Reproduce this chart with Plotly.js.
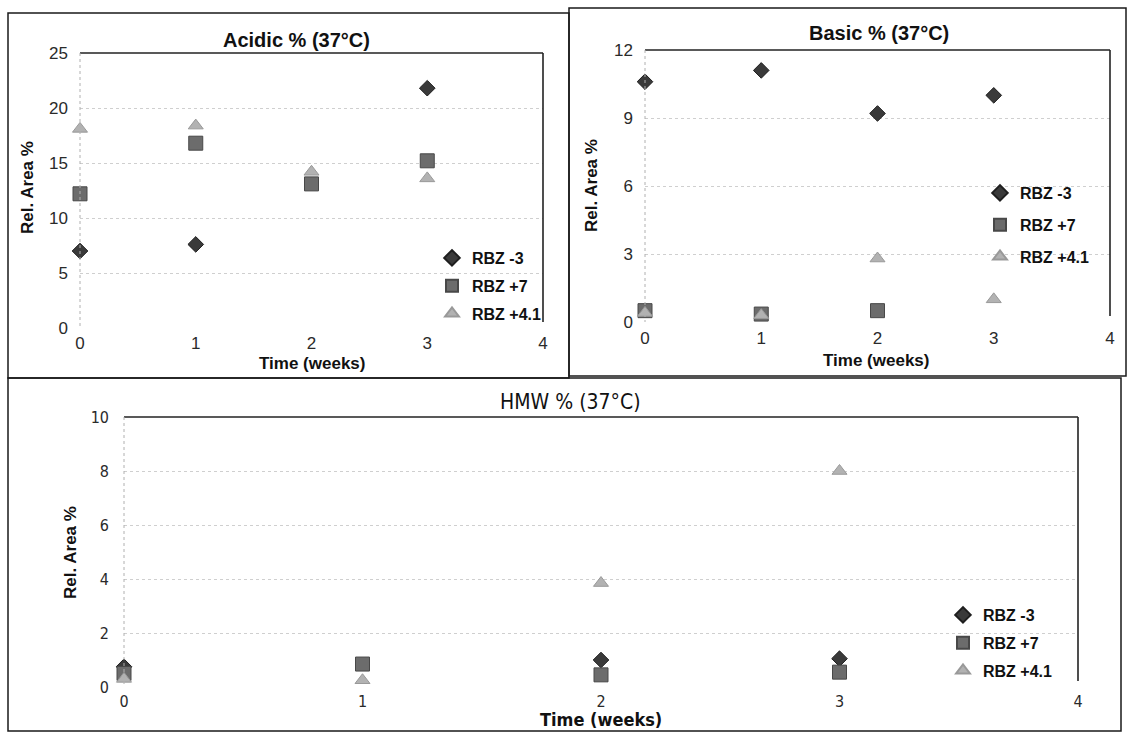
<!DOCTYPE html>
<html>
<head>
<meta charset="utf-8">
<script src="https://cdn.plot.ly/plotly-3.0.1.min.js"></script>
<style>html,body{margin:0;padding:0;background:#fff;}#chart{width:1127px;height:733px;}</style>
</head>
<body>
<div id="chart"></div>
<script>
// ---- data ----
const seriesNames = ["RBZ -3", "RBZ +7", "RBZ +4.1"];
const timeTicks = [0, 1, 2, 3, 4];

const acidicM3x = [0, 1, 3];
const acidicM3 = [7.0, 7.6, 21.8];
const acidicP7x = [0, 1, 2, 3];
const acidicP7 = [12.2, 16.8, 13.1, 15.2];
const acidicP41x = [0, 1, 2, 3];
const acidicP41 = [18.1, 18.4, 14.2, 13.6];

const basicM3x = [0, 1, 2, 3];
const basicM3 = [10.6, 11.1, 9.2, 10.0];
const basicP7x = [0, 1, 2];
const basicP7 = [0.5, 0.35, 0.5];
const basicP41x = [0, 1, 2, 3];
const basicP41 = [0.4, 0.3, 2.8, 1.0];

const hmwM3x = [0, 2, 3];
const hmwM3 = [0.75, 1.0, 1.05];
const hmwP7x = [0, 1, 2, 3];
const hmwP7 = [0.5, 0.85, 0.45, 0.55];
const hmwP41x = [0, 1, 2, 3];
const hmwP41 = [0.3, 0.25, 3.85, 8.0];

// ---- geometry helpers ----
const W = 1127, H = 733;
const px = v => v / W;
const py = v => 1 - v / H;

const ARIAL = "Liberation Sans, Arial, sans-serif";
const COND = "DejaVu Sans Condensed, Liberation Sans, sans-serif";

const styles = [
  {symbol: "diamond", size: 12, color: "#3a3a3a", line: {color: "#1e1e1e", width: 1}},
  {symbol: "square", size: 14, color: "#6c6c6c", line: {color: "#484848", width: 1}},
  {symbol: "triangle-up", size: 13, color: "#b2b2b2", line: {color: "#999", width: 1}}
];

function mk(x, y, i, ax, leg) {
  return {
    type: "scatter", mode: "markers", x: x, y: y, name: seriesNames[i],
    xaxis: "x" + ax, yaxis: "y" + ax, legend: leg, legendgroup: leg + i,
    marker: styles[i], cliponaxis: false, hoverinfo: "x+y+name"
  };
}

const traces = [
  mk(acidicM3x, acidicM3, 0, "", "legend"),
  mk(acidicP7x, acidicP7, 1, "", "legend"),
  mk(acidicP41x, acidicP41, 2, "", "legend"),
  mk(basicM3x, basicM3, 0, "2", "legend2"),
  mk(basicP7x, basicP7, 1, "2", "legend2"),
  mk(basicP41x, basicP41, 2, "2", "legend2"),
  mk(hmwM3x, hmwM3, 0, "3", "legend3"),
  mk(hmwP7x, hmwP7, 1, "3", "legend3"),
  mk(hmwP41x, hmwP41, 2, "3", "legend3")
];
traces.slice(0, 3).forEach(t => { t.xaxis = "x"; t.yaxis = "y"; });

// plot areas in pixels: [left, right, top, bottom]
const P1 = [80, 543, 53, 328];
const P2 = [645, 1110, 50, 322];
const P3 = [124, 1078, 417, 687];

function xax(P, font, anchor, standoff) {
  return {
    domain: [px(P[0]), px(P[1])], range: [0, 4], tickvals: timeTicks,
    showgrid: false, zeroline: false, showline: false, ticks: "",
    tickfont: font, ticklabelstandoff: standoff, anchor: anchor, fixedrange: true
  };
}
function yax(P, range, dtick, font, anchor, standoff) {
  return {
    domain: [py(P[3]), py(P[2])], range: range, dtick: dtick,
    showgrid: true, gridcolor: "#cfcfcf", griddash: "dot", gridwidth: 1,
    zeroline: false, showline: false, ticks: "",
    tickfont: font, ticklabelstandoff: standoff, anchor: anchor, fixedrange: true
  };
}

const tickFont = {family: ARIAL, size: 17, color: "#2a2a2a"};
const tickFontC = {family: COND, size: 16, color: "#2a2a2a"};

function plotFrame(P) {
  return [
    {type: "line", xref: "paper", yref: "paper", x0: px(P[0]), x1: px(P[1]), y0: py(P[2]), y1: py(P[2]), line: {color: "#222", width: 1.6}},
    {type: "line", xref: "paper", yref: "paper", x0: px(P[1]), x1: px(P[1]), y0: py(P[2]), y1: py(P[3] - 6), line: {color: "#222", width: 1.6}},
    {type: "line", xref: "paper", yref: "paper", x0: px(P[0]), x1: px(P[0]), y0: py(P[2]), y1: py(P[3]), line: {color: "#b0b0b0", width: 1, dash: "dot"}}
  ];
}
function panel(x0, x1, y0, y1) {
  return {type: "rect", xref: "paper", yref: "paper", x0: px(x0), x1: px(x1), y0: py(y1), y1: py(y0), line: {color: "#1a1a1a", width: 1.5}, fillcolor: "rgba(0,0,0,0)"};
}

const shapes = [
  panel(8, 569, 13, 378),
  panel(569, 1126, 8, 376),
  panel(8, 1121, 378, 731)
].concat(plotFrame(P1), plotFrame(P2), plotFrame(P3));

function ann(text, x, y, font, rot) {
  return {text: text, xref: "paper", yref: "paper", x: px(x), y: py(y), xanchor: "center", yanchor: "middle",
          showarrow: false, font: font, textangle: rot || 0};
}
const titleFont = {family: ARIAL, size: 20, color: "#111", weight: "bold"};
const axFont = {family: ARIAL, size: 17, color: "#111", weight: "bold"};
const condTitle = {family: COND, size: 21, color: "#111"};
const condAx = {family: COND, size: 18, color: "#111", weight: "bold"};

const annotations = [
  ann("Acidic % (37°C)", 297, 40, titleFont),
  ann("Basic % (37°C)", 879, 33, titleFont),
  ann("HMW % (37°C)", 570, 402, condTitle),
  ann("Time (weeks)", 312, 363, axFont),
  ann("Time (weeks)", 876, 360, axFont),
  ann("Time (weeks)", 601, 719, condAx),
  ann("Rel. Area %", 27, 188, axFont, -90),
  ann("Rel. Area %", 592, 186, axFont, -90),
  ann("Rel. Area %", 70, 553, axFont, -90)
];

function leg(x, y, gap) {
  return {x: px(x), y: py(y), xanchor: "left", yanchor: "top", bgcolor: "rgba(0,0,0,0)",
          borderwidth: 0, font: {family: ARIAL, size: 16, color: "#111", weight: "bold"},
          tracegroupgap: gap, itemwidth: 30, itemsizing: "constant"};
}

const layout = {
  width: W, height: H, margin: {l: 0, r: 0, t: 0, b: 0},
  paper_bgcolor: "#fff", plot_bgcolor: "rgba(0,0,0,0)",
  showlegend: true,
  xaxis: xax(P1, tickFont, "y", 3),
  yaxis: yax(P1, [0, 25], 5, tickFont, "x", 11),
  xaxis2: xax(P2, tickFont, "y2", 4),
  yaxis2: yax(P2, [0, 12], 3, tickFont, "x2", 11),
  xaxis3: xax(P3, tickFontC, "y3", 3),
  yaxis3: yax(P3, [0, 10], 2, tickFontC, "x3", 14),
  legend: leg(432, 241, 4),
  legend2: leg(980, 176, 8),
  legend3: leg(943, 598, 4),
  shapes: shapes,
  annotations: annotations
};

Plotly.newPlot("chart", traces, layout, {displayModeBar: false, staticPlot: true});
</script>
</body>
</html>
